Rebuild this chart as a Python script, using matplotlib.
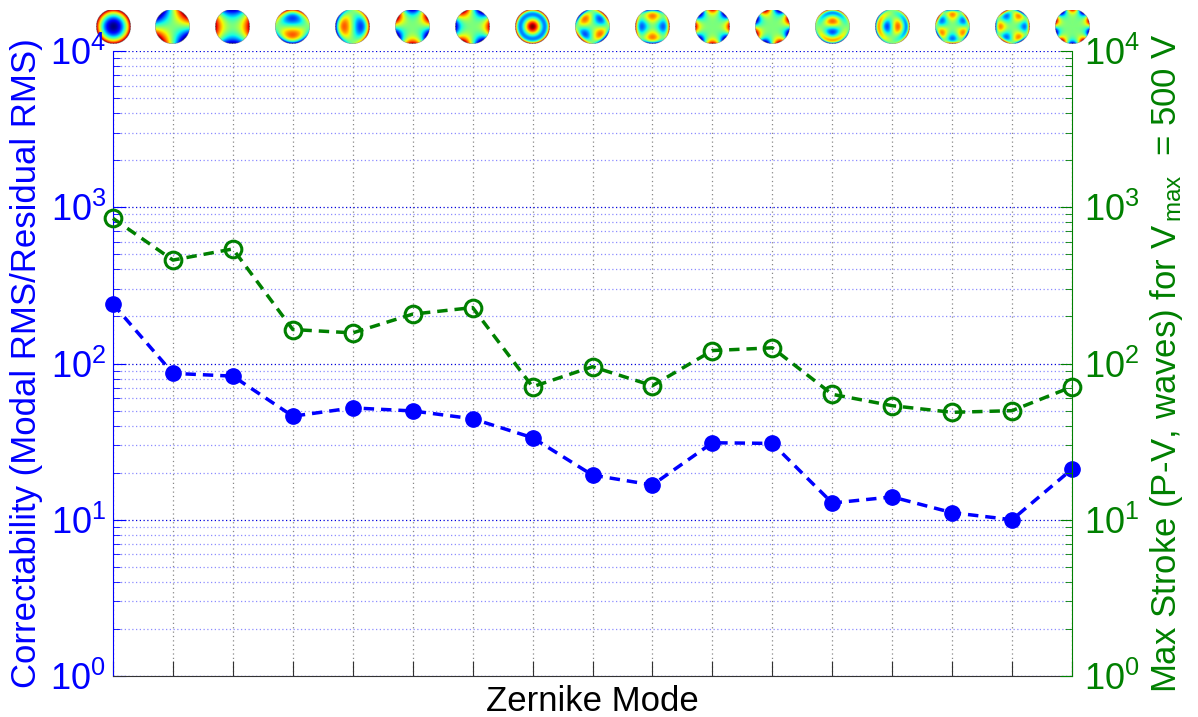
import numpy as np
import matplotlib
matplotlib.use("Agg")
import matplotlib.pyplot as plt
from matplotlib.ticker import LogLocator, NullFormatter

plt.rcParams['font.family'] = ['Liberation Sans', 'DejaVu Sans']
plt.rcParams['mathtext.fontset'] = 'custom'
plt.rcParams['mathtext.rm'] = 'Liberation Sans'
plt.rcParams['mathtext.it'] = 'Liberation Sans:italic'
plt.rcParams['mathtext.bf'] = 'Liberation Sans:bold'

# ---- data ----
modes = list(range(1, 18))
correctability = [240, 86.5, 83, 46, 52, 49.7, 44.3, 33.5, 19.3, 16.7,
                  31.1, 30.8, 12.8, 14.0, 11.1, 10.0, 21.1]
max_stroke = [849, 459, 541, 165, 157, 207, 228, 71, 95.4, 72.1,
              121, 126, 63.5, 53.7, 48.7, 49.9, 71]
zernike_icons = ['defocus', 'astig45', 'astig0', 'comay', 'comax', 'tref_s', 'tref_c',
                 'spher', 'astig2_s', 'astig2_c', 'tetra_c', 'tetra_s', 'coma2y',
                 'coma2x', 'tref2_s', 'tref2_c', 'penta_s']
decades = [1, 10, 100, 1000, 10000]
decade_labels = [r'$10^{0}$', r'$10^{1}$', r'$10^{2}$', r'$10^{3}$', r'$10^{4}$']

xlabel = 'Zernike Mode'
ylabel_left = 'Correctability (Modal RMS/Residual RMS)'
ylabel_right = r'Max Stroke (P-V, waves) for V$_{\,\mathrm{max}}$  = 500 V'

BLUE = '#0000ff'
GREEN = '#008000'

fig = plt.figure(figsize=(11.98, 7.17), dpi=100)
ax = fig.add_axes([113/1198, 41/717, 959/1198, 625/717])
ax2 = ax.twinx()

ax.set_yscale('log')
ax2.set_yscale('log')
ax.set_ylim(1, 1e4)
ax2.set_ylim(1, 1e4)
ax.set_xlim(1, 17)
ax.set_xticks(modes)
ax.set_xticklabels([])
for a in (ax, ax2):
    a.set_yticks(decades)
    a.set_yticklabels(decade_labels)
    a.yaxis.set_minor_locator(LogLocator(base=10, subs=np.arange(2, 10)))
    a.yaxis.set_minor_formatter(NullFormatter())

# grids
ax.grid(True, which='major', axis='y', color='#0000dd', linestyle=(0, (1, 2)), linewidth=0.9)
ax.grid(True, which='minor', axis='y', color='#8c8cff', linestyle=(0, (1, 2)), linewidth=0.9)
ax.grid(True, which='major', axis='x', color='#888888', linestyle=(0, (1, 2.5)), linewidth=0.9)
ax.set_axisbelow(True)

ax.plot(modes, correctability, linestyle='--', color=BLUE, linewidth=2.5,
        dashes=(3, 2), marker='o', markersize=11, markerfacecolor=BLUE,
        markeredgecolor=BLUE, clip_on=False, zorder=5)
ax2.plot(modes, max_stroke, linestyle='--', color=GREEN, linewidth=2.5,
         dashes=(3, 2), marker='o', markersize=12, markerfacecolor='none',
         markeredgecolor=GREEN, markeredgewidth=2.2, clip_on=False, zorder=5)

# spines & ticks
for a in (ax, ax2):
    a.spines['top'].set_visible(False)
ax.spines['left'].set_color(BLUE)
ax.spines['bottom'].set_color('#333333')
ax2.spines['right'].set_color(GREEN)
ax2.spines['left'].set_visible(False)
ax2.spines['bottom'].set_visible(False)
ax.spines['right'].set_visible(False)

ax.tick_params(axis='y', which='both', direction='in', colors=BLUE, labelsize=26, pad=5)
ax.tick_params(axis='y', which='major', length=9)
ax.tick_params(axis='y', which='minor', length=5)
ax.tick_params(axis='x', which='both', direction='in', length=11, color='#333333', top=False)
ax2.tick_params(axis='y', which='both', direction='in', colors=GREEN, labelsize=26, pad=9)
ax2.tick_params(axis='y', which='major', length=9)
ax2.tick_params(axis='y', which='minor', length=5)

ax.set_xlabel(xlabel, fontsize=25, color='black')
ax.xaxis.set_label_coords(0.5, -0.015)
ax.set_ylabel(ylabel_left, fontsize=25, color=BLUE)
ax.yaxis.set_label_coords(-0.073, 0.5)
ax2.set_ylabel(ylabel_right, fontsize=25, color=GREEN, rotation=90)
ax2.yaxis.set_label_coords(1.079, 0.5)

# ---- Zernike mode icons ----
n = 81
g = np.linspace(-1, 1, n)
X, Y = np.meshgrid(g, g)
R = np.sqrt(X**2 + Y**2)
T = np.arctan2(Y, X)
funcs = {
    'defocus': 2*R**2 - 1,
    'astig45': R**2*np.sin(2*T),
    'astig0': R**2*np.cos(2*T),
    'comay': (3*R**3 - 2*R)*np.sin(T),
    'comax': (3*R**3 - 2*R)*np.cos(T),
    'tref_s': R**3*np.sin(3*T),
    'tref_c': R**3*np.cos(3*T),
    'spher': 6*R**4 - 6*R**2 + 1,
    'astig2_s': (4*R**4 - 3*R**2)*np.sin(2*T),
    'astig2_c': (4*R**4 - 3*R**2)*np.cos(2*T),
    'tetra_c': R**4*np.cos(4*T),
    'tetra_s': R**4*np.sin(4*T),
    'coma2y': (10*R**5 - 12*R**3 + 3*R)*np.sin(T),
    'coma2x': (10*R**5 - 12*R**3 + 3*R)*np.cos(T),
    'tref2_s': (5*R**5 - 4*R**3)*np.sin(3*T),
    'tref2_c': (5*R**5 - 4*R**3)*np.cos(3*T),
    'penta_s': R**5*np.sin(5*T),
}

fig.canvas.draw()
W, H = fig.get_size_inches() * fig.dpi
size_px = 35
yc_px = 27
for m, name in zip(modes, zernike_icons):
    xd, _ = ax.transData.transform((m, 1))
    iax = fig.add_axes([(xd - size_px/2)/W, (H - yc_px - size_px/2)/H, size_px/W, size_px/H])
    Z = funcs[name].copy()
    v = np.nanmax(np.abs(Z[R <= 1]))
    Z = np.ma.masked_where(R > 1, Z)
    iax.imshow(Z, cmap='jet', vmin=-v, vmax=v, origin='lower', interpolation='bilinear')
    iax.axis('off')
    iax.set_zorder(-1)

fig.savefig('out.png', dpi=100)
